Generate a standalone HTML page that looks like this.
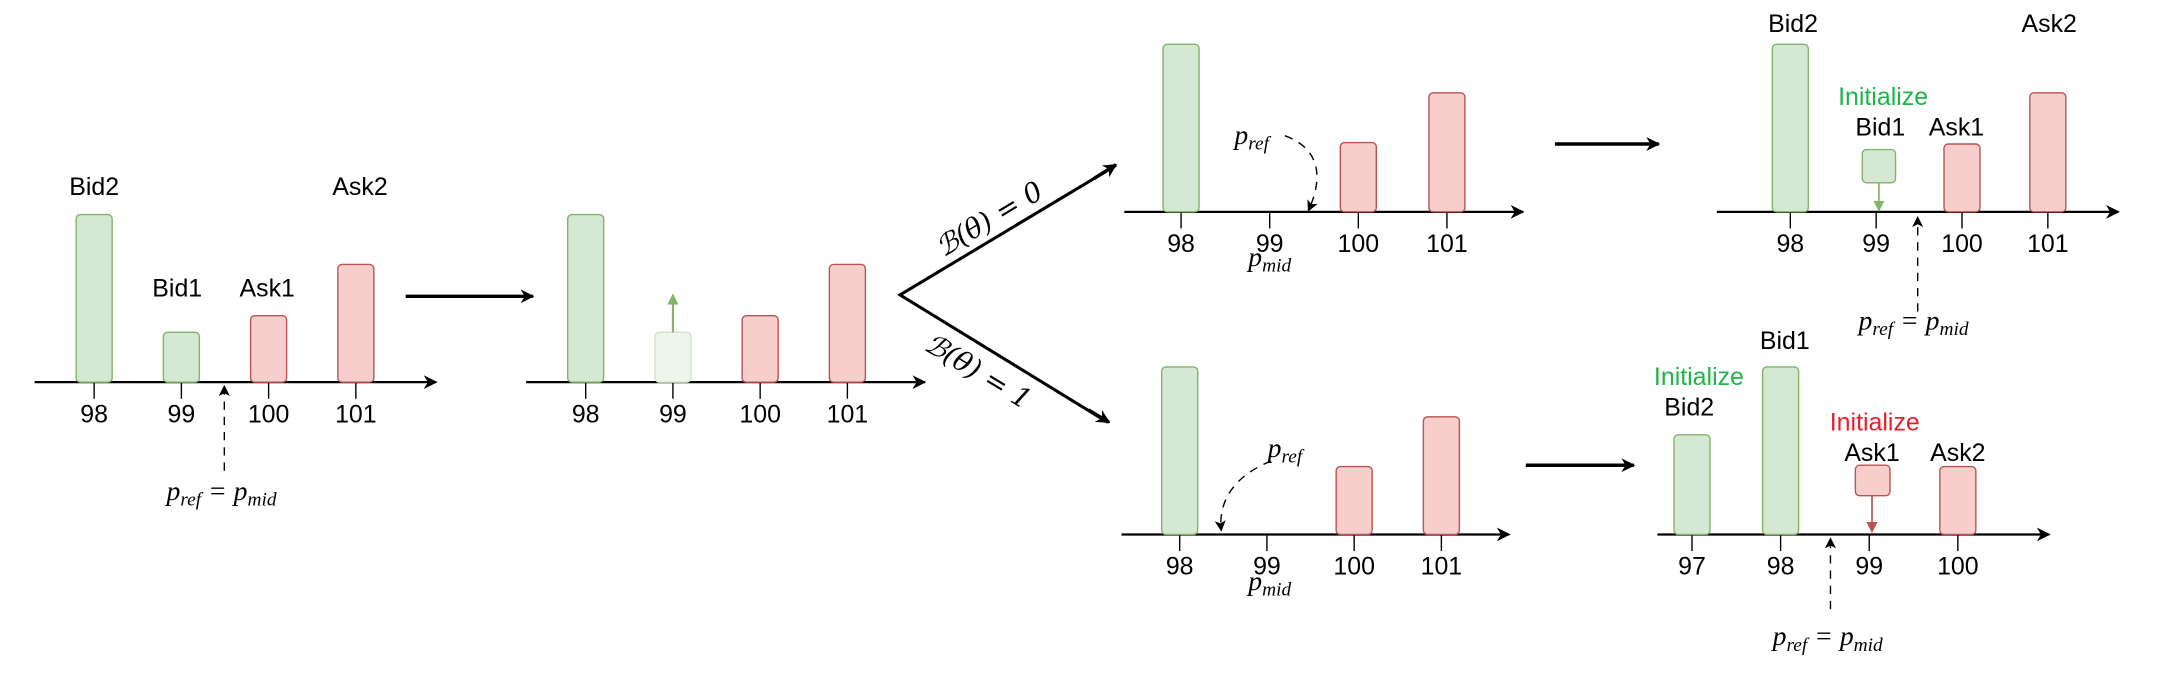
<!DOCTYPE html>
<html><head><meta charset="utf-8"><style>
html,body{margin:0;padding:0;background:#fff;width:2160px;height:684px;overflow:hidden}
svg{display:block}
.lbl{font-family:"Liberation Sans",sans-serif;font-size:18px;fill:#000;text-anchor:middle}
.m{font-family:"Liberation Serif",serif;font-style:italic;font-size:20px;fill:#000;text-anchor:middle}
</style></head><body>
<svg id="fig" width="2160" height="684" viewBox="0 0 1560 494" preserveAspectRatio="none" xmlns="http://www.w3.org/2000/svg">
<defs>
<marker id="ah" markerWidth="10" markerHeight="10" refX="9" refY="5" orient="auto" markerUnits="userSpaceOnUse"><path d="M0,0 L10,5 L0,10 L3,5 Z" fill="#000"/></marker>
<marker id="ahs" markerWidth="8" markerHeight="8" refX="7" refY="4" orient="auto" markerUnits="userSpaceOnUse"><path d="M0,0 L8,4 L0,8 L2,4 Z" fill="#000"/></marker>
<marker id="ahg" markerWidth="8" markerHeight="8" refX="7" refY="4" orient="auto" markerUnits="userSpaceOnUse"><path d="M0,0 L8,4 L0,8 Z" fill="#82b366"/></marker>
<marker id="ahr" markerWidth="8" markerHeight="8" refX="7" refY="4" orient="auto" markerUnits="userSpaceOnUse"><path d="M0,0 L8,4 L0,8 Z" fill="#b85450"/></marker>
</defs>
<g id="marks"></g>
<g stroke="#000" stroke-width="2.5" fill="none">
<line x1="293" y1="214" x2="385" y2="214" marker-end="url(#ah)"/>
<polyline points="805,120 650,213 800,305" stroke-width="2.2"/>
<line x1="790" y1="129" x2="806" y2="119" marker-end="url(#ah)"/>
<line x1="786" y1="296" x2="801" y2="305" marker-end="url(#ah)"/>
<line x1="1123" y1="104" x2="1198" y2="104" marker-end="url(#ah)"/>
<line x1="1102" y1="336" x2="1180" y2="336" marker-end="url(#ah)"/>
</g>
<text class="m" transform="translate(718,164) rotate(-31)" font-size="24" style="font-family:'DejaVu Serif','Liberation Serif',serif">ℬ(θ) = 0</text>
<text class="m" transform="translate(703,274) rotate(31)" font-size="24" style="font-family:'DejaVu Serif','Liberation Serif',serif">ℬ(θ) = 1</text>
<g stroke="#000" stroke-width="1" fill="none" stroke-dasharray="6,5">
<line x1="162" y1="340" x2="162" y2="279" marker-end="url(#ahs)"/>
<path d="M928,98 C955,108 955,130 945,152" marker-end="url(#ahs)"/>
<line x1="1385" y1="225" x2="1385" y2="157" marker-end="url(#ahs)"/>
<path d="M918,333 C888,345 880,365 882,383" marker-end="url(#ahs)"/>
<line x1="1322" y1="440" x2="1322" y2="389" marker-end="url(#ahs)"/>
</g>
<text class="m" x="160" y="361">p<tspan font-size="14" dy="4">ref</tspan><tspan dy="-4"> = p</tspan><tspan font-size="14" dy="4">mid</tspan></text>
<text class="m" x="904" y="104">p<tspan font-size="14" dy="4">ref</tspan></text>
<text class="m" x="917" y="192">p<tspan font-size="14" dy="4">mid</tspan></text>
<text class="m" x="1382" y="238">p<tspan font-size="14" dy="4">ref</tspan><tspan dy="-4"> = p</tspan><tspan font-size="14" dy="4">mid</tspan></text>
<text class="m" x="928" y="330">p<tspan font-size="14" dy="4">ref</tspan></text>
<text class="m" x="917" y="426">p<tspan font-size="14" dy="4">mid</tspan></text>
<text class="m" x="1320" y="466">p<tspan font-size="14" dy="4">ref</tspan><tspan dy="-4"> = p</tspan><tspan font-size="14" dy="4">mid</tspan></text>
<g>
<text class="lbl" x="68" y="141">Bid2</text><text class="lbl" x="260" y="141">Ask2</text>
<text class="lbl" x="128" y="214">Bid1</text><text class="lbl" x="193" y="214">Ask1</text>
<text class="lbl" x="1295" y="23">Bid2</text><text class="lbl" x="1480" y="23">Ask2</text>
<text class="lbl" x="1360" y="76" style="fill:#22b34a">Initialize</text>
<text class="lbl" x="1358" y="98">Bid1</text><text class="lbl" x="1413" y="98">Ask1</text>
<text class="lbl" x="1289" y="252">Bid1</text>
<text class="lbl" x="1227" y="278" style="fill:#22b34a">Initialize</text>
<text class="lbl" x="1220" y="300">Bid2</text>
<text class="lbl" x="1354" y="311" style="fill:#e8202a">Initialize</text>
<text class="lbl" x="1352" y="333">Ask1</text><text class="lbl" x="1414" y="333">Ask2</text>
</g>
</svg>
<script>
const p1Ticks = ["98","99","100","101"];
const p1Depth = [121, 36, 48, 85];
const p2Ticks = ["98","99","100","101"];
const p2Depth = [121, 36, 48, 85];
const p3Ticks = ["98","99","100","101"];
const p3Depth = [121, 0, 50, 86];
const p4Ticks = ["98","99","100","101"];
const p4Depth = [121, 0, 49, 86];
const p5Ticks = ["98","99","100","101"];
const p5Depth = [121, 0, 49, 85];
const p6Ticks = ["97","98","99","100"];
const p6Depth = [72, 121, 0, 49];
const sides1 = ["bid","bid","ask","ask"];
const sides6 = ["bid","bid","ask","ask"];

const NS = "http://www.w3.org/2000/svg";
const g = document.getElementById("marks");
function mk(tag, attrs){const e=document.createElementNS(NS,tag);for(const k in attrs)e.setAttribute(k,attrs[k]);g.appendChild(e);return e;}
function panel(name, ax0, ax1, axisY, x0, step, ticks, depth, sides, opts){
  const xs = i => x0 + i*step;
  const ys = v => axisY - v;
  const ax = mk("line",{x1:ax0,y1:axisY,x2:ax1,y2:axisY,stroke:"#000","stroke-width":1.6,"marker-end":"url(#ah)"});
  
  
  ticks.forEach((t,i)=>{
    const tk = mk("line",{x1:xs(i),y1:axisY,x2:xs(i),y2:axisY+12,stroke:"#000","stroke-width":1});
    
    
    const tl = mk("text",{x:xs(i),y:axisY+29,"class":"lbl"});
    tl.textContent = t;
    
    
  });
  depth.forEach((v,i)=>{
    if(v<=0) return;
    const bid = sides[i]==="bid";
    const faded = opts && opts.faded===i;
    const r = mk("rect",{x:xs(i)-13,y:ys(v),width:26,height:v,rx:3,
      fill: faded? "#eef6ec" : (bid?"#d5e8d4":"#f8cecc"),
      stroke: faded? "#cfe3c8" : (bid?"#82b366":"#b85450"),"stroke-width":1});
    
    
  });
}
panel("panel1",25,315,276,68,63,p1Ticks,p1Depth,sides1);
panel("panel2",380,668,276,423,63,p2Ticks,p2Depth,sides1,{faded:1});
panel("panel3",812,1100,153,853,64,p3Ticks,p3Depth,sides1);
panel("panel4",1240,1530,153,1293,62,p4Ticks,p4Depth,sides1);
panel("panel5",810,1090,386,852,63,p5Ticks,p5Depth,sides1);
panel("panel6",1197,1480,386,1222,64,p6Ticks,p6Depth,sides6);

const up = mk("line",{x1:486,y1:240,x2:486,y2:213,stroke:"#82b366","stroke-width":1.5,"marker-end":"url(#ahg)"});


const nb = mk("rect",{x:1345,y:108,width:24,height:24,rx:3,fill:"#d5e8d4",stroke:"#82b366"});


const nba = mk("line",{x1:1357,y1:132,x2:1357,y2:152,stroke:"#82b366","stroke-width":1.2,"marker-end":"url(#ahg)"});


const na = mk("rect",{x:1340,y:336,width:25,height:22,rx:3,fill:"#f8cecc",stroke:"#b85450"});


const naa = mk("line",{x1:1352,y1:358,x2:1352,y2:384,stroke:"#b85450","stroke-width":1.2,"marker-end":"url(#ahr)"});


</script>
</body></html>
